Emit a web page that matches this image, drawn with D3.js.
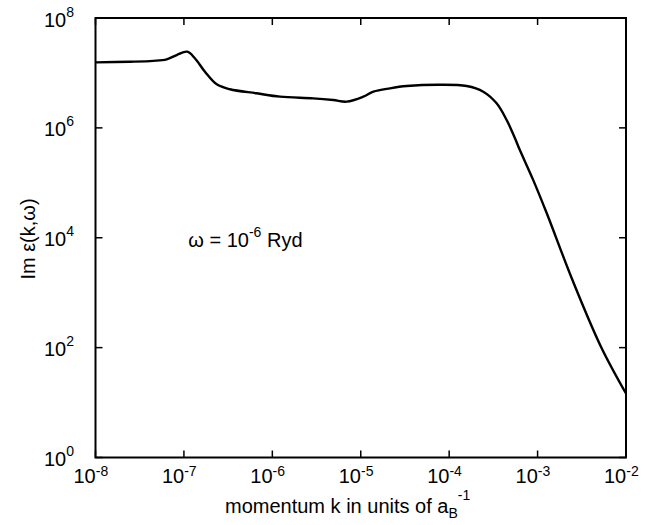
<!DOCTYPE html>
<html>
<head>
<meta charset="utf-8">
<script src="https://cdn.jsdelivr.net/npm/d3@7"></script>
<style>
  html, body { margin: 0; padding: 0; background: #fff; }
  svg { display: block; }
  text { font-family: "Liberation Sans", Arial, Helvetica, sans-serif; fill: #000; }
</style>
</head>
<body>
<svg id="chart" width="666" height="525"></svg>
<script>
// momentum k (units of a_B^-1)
const kValues = [1.0e-8, 2.45e-8, 4.5e-8, 6.38e-8, 8.28e-8, 1.09e-7, 1.33e-7, 1.73e-7, 2.35e-7, 3.32e-7,
  6.65e-7, 1.22e-6, 2.90e-6, 4.89e-6, 6.93e-6, 1.07e-5, 1.39e-5, 2.14e-5, 3.31e-5, 7.87e-5,
  1.58e-4, 2.43e-4, 3.44e-4, 4.47e-4, 5.55e-4, 6.32e-4, 8.93e-4, 1.27e-3, 2.48e-3, 5.21e-3, 1.0e-2];
// Im eps(k, omega)
const imEps = [1.56e7, 1.60e7, 1.66e7, 1.77e7, 2.12e7, 2.44e7, 1.85e7, 1.05e7, 6.21e6, 5.04e6,
  4.26e6, 3.70e6, 3.45e6, 3.21e6, 3.00e6, 3.70e6, 4.56e6, 5.25e6, 5.78e6, 6.11e6,
  5.78e6, 4.56e6, 2.80e6, 1.39e6, 6.46e5, 3.9e5, 1.12e5, 2.79e4, 1.70e3, 104, 14.6];
const xTickExps = [-8, -7, -6, -5, -4, -3, -2];
const yTickExps = [0, 2, 4, 6, 8];
const xLabel = "momentum k in units of a";
const yLabel = "Im \u03b5(k,\u03c9)";
const annotation = { pre: "\u03c9 = 10", sup: "-6", post: " Ryd", k: 1.12e-7, v: 6.9e3 };

const svg = d3.select("#chart");
const L = 95.5, R = 626, T = 18, B = 457.5;
const x = d3.scaleLog().domain([1e-8, 1e-2]).range([L, R]);
const y = d3.scaleLog().domain([1e0, 1e8]).range([B, T]);

const tickLen = 7;
const g = svg.append("g");

// ticks (inward, mirrored)
xTickExps.forEach(e => {
  const px = x(Math.pow(10, e));
  g.append("line").attr("x1", px).attr("x2", px).attr("y1", B).attr("y2", B - tickLen)
    .attr("stroke", "#000").attr("stroke-width", 1.5);
  g.append("line").attr("x1", px).attr("x2", px).attr("y1", T).attr("y2", T + tickLen)
    .attr("stroke", "#000").attr("stroke-width", 1.5);
  const t = g.append("text").attr("x", px - 22).attr("y", B + 25).attr("font-size", 20);
  t.append("tspan").text("10");
  t.append("tspan").attr("dy", -7).attr("font-size", 14).text(String(e));
});
yTickExps.forEach(e => {
  const py = y(Math.pow(10, e));
  g.append("line").attr("x1", L).attr("x2", L + tickLen).attr("y1", py).attr("y2", py)
    .attr("stroke", "#000").attr("stroke-width", 1.5);
  g.append("line").attr("x1", R).attr("x2", R - tickLen).attr("y1", py).attr("y2", py)
    .attr("stroke", "#000").attr("stroke-width", 1.5);
  const t = g.append("text").attr("x", 44).attr("y", py + 8.5).attr("font-size", 20);
  t.append("tspan").text("10");
  t.append("tspan").attr("dy", -10).attr("font-size", 14).text(String(e));
});

// curve
const data = kValues.map((k, i) => [k, imEps[i]]);
const line = d3.line().x(d => x(d[0])).y(d => y(d[1])).curve(d3.curveCatmullRom.alpha(0.5));
g.append("path").datum(data).attr("d", line)
  .attr("fill", "none").attr("stroke", "#000").attr("stroke-width", 2.4)
  .attr("stroke-linejoin", "round");

// frame
g.append("rect").attr("x", L).attr("y", T).attr("width", R - L).attr("height", B - T)
  .attr("fill", "none").attr("stroke", "#000").attr("stroke-width", 2);

// axis labels
const xl = svg.append("text").attr("x", 225).attr("y", 513).attr("font-size", 20);
xl.append("tspan").text(xLabel);
xl.append("tspan").attr("dy", 5).attr("font-size", 14).text("B");
xl.append("tspan").attr("dy", -18).attr("font-size", 14).text("-1");

svg.append("text").attr("transform", "translate(35,239) rotate(-90)")
  .attr("text-anchor", "middle").attr("font-size", 20).text(yLabel);

// annotation
const at = svg.append("text").attr("x", x(annotation.k)).attr("y", y(annotation.v)).attr("font-size", 20);
at.append("tspan").text(annotation.pre);
at.append("tspan").attr("dy", -10).attr("font-size", 14).text(annotation.sup);
at.append("tspan").attr("dy", 10).text(annotation.post);
</script>
</body>
</html>
